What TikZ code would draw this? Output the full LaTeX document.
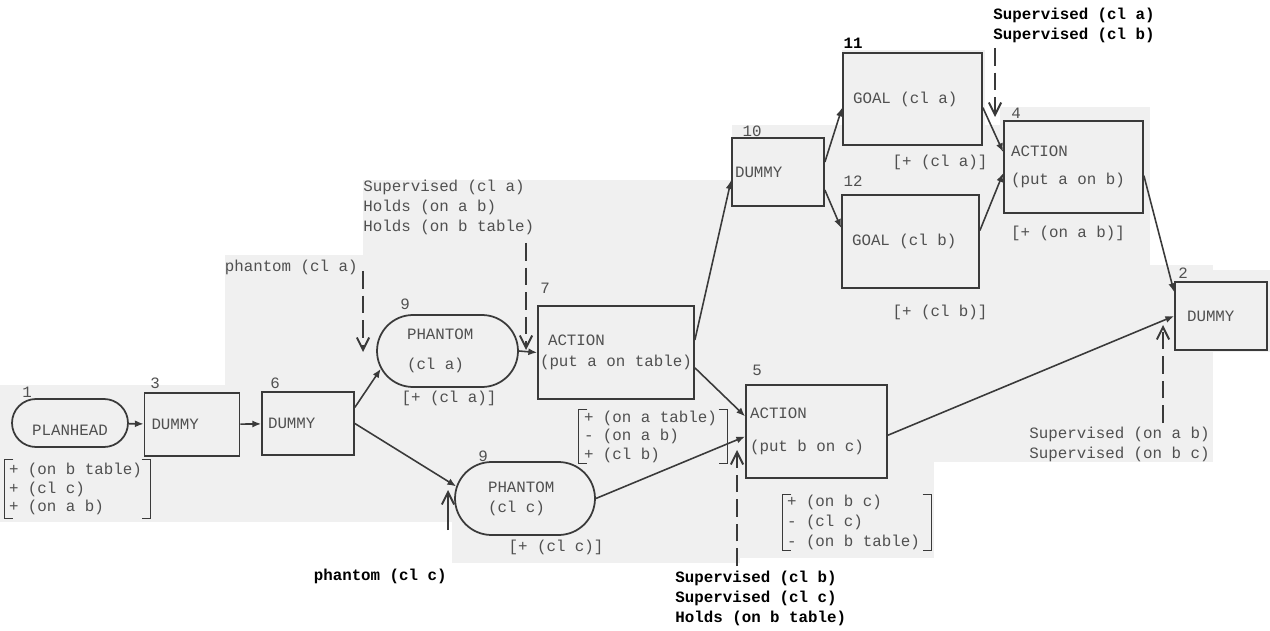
\documentclass[tikz,border=0pt]{standalone}
\usepackage{fontspec}
\setmonofont{Liberation Mono}
\usetikzlibrary{arrows.meta,shapes.misc}
\definecolor{ink}{HTML}{3A3A3A}
\definecolor{faded}{HTML}{505050}
\definecolor{paper}{HTML}{F0F0F0}
\tikzset{
	every node/.style={font=\ttfamily\fontsize{9}{11.4}\selectfont, text=faded, inner sep=0pt},
	box/.style n args={3}{draw=ink, line width=1pt, minimum width=#1cm, minimum height=#2cm, text width=#3cm, align=flush left},
	stadium/.style n args={3}{box={#1}{#2}{#3}, rounded rectangle},
	cond/.style n args={3}{minimum width=#1cm, minimum height=#2cm, text width=#3cm, align=flush left},
	note/.style={align=left},
	boldnote/.style={align=left, text=black, font=\ttfamily\bfseries\fontsize{9}{11.4}\selectfont},
	flow/.style={draw=ink, line width=0.9pt, -{Latex[length=5pt,width=4pt]}},
	feed/.style={draw=ink, line width=1.1pt, dash pattern=on 10pt off 4pt, -{Straight Barb[length=7pt,width=7pt]}},
	brk/.style={draw=ink, line width=0.9pt}
}
\begin{document}
\begin{tikzpicture}[x=0.02cm, y=-0.02cm]
	\useasboundingbox (0,0) rectangle (1270,631);
	\fill[white] (0,0) rectangle (1270,631);
	% pasted-up patches of the scan
	\foreach \xa/\ya/\xb/\yb in {0/385/455/522, 225/255/363/385, 363/180/732/522, 452/522/740/563, 732/125/1000/462, 732/462/934/558, 842/50/985/125, 1000/107/1150/462, 1150/265/1213/462, 1168/270/1270/352}{
		\fill[paper] (\xa,\ya) rectangle (\xb,\yb);
	}
	% plan nodes
	\node[stadium={2.32}{0.96}{1.6}, align=center] (plan) at (70,423) {\raisebox{-0.18cm}[0.2cm][0.04cm]{PLANHEAD}};
	\node[box={1.9}{1.26}{1.62}] (dummy3) at (192,424.5) {DUMMY};
	\node[box={1.84}{1.26}{1.6}] (dummy6) at (308,423.5) {DUMMY};
	\node[stadium={2.82}{1.44}{1.62}] (phantomA) at (447.5,351) {PHANTOM\\[5.5pt](cl a)};
	\node[box={3.12}{1.86}{3.04}] (action7) at (616,352.5) {\hspace*{0.16cm}ACTION\\[0.5pt](put a on table)};
	\node[stadium={2.8}{1.46}{1.48}] (phantomC) at (525,498.5) {PHANTOM\\(cl c)};
	\node[box={2.82}{1.86}{2.66}] (action5) at (816.5,431.5) {ACTION\\[7pt](put b on c)};
	\node[box={1.84}{1.36}{1.72}] (dummy10) at (778,172) {DUMMY};
	\node[box={2.78}{1.84}{2.38}] (goal11) at (912.5,99) {GOAL (cl a)};
	\node[box={2.74}{1.86}{2.34}] (goal12) at (910.5,241.5) {GOAL (cl b)};
	\node[box={2.78}{1.84}{2.5}] (action4) at (1073.5,167) {ACTION\\[4.5pt](put a on b)};
	\node[box={1.84}{1.36}{1.36}] (dummy2) at (1221,316) {DUMMY};
	% node numbers
	\foreach \name/\x/\y/\txt in {n1/27/392/1, n3/155/383/3, n6/275/383/6, n9a/405/304/9, n7/545/288/7, n9c/483/456/9, n5/757/370/5, n10/752/131/10, n12/853/181/12, n4/1016/113/4, n2/1183/273/2}{
		\node (\name) at (\x,\y) {\txt};
	}
	\node[text=black, font=\ttfamily\bfseries\fontsize{9}{11}\selectfont] (n11) at (853,43) {11};
	% effects
	\node (effA) at (449,398) {[+ (cl a)]};
	\node (effC) at (556,547) {[+ (cl c)]};
	\node (eff11) at (940,162) {[+ (cl a)]};
	\node (eff12) at (940,312) {[+ (cl b)]};
	\node (eff4) at (1068,233) {[+ (on a b)]};
	\node[cond={2.9}{1.16}{2.74}, font=\ttfamily\fontsize{9}{10.5}\selectfont] (lstPH) at (77.5,489) {+ (on b table)\\+ (cl c)\\+ (on a b)};
	\node[cond={2.96}{1.06}{2.76}, font=\ttfamily\fontsize{9}{10.5}\selectfont] (lst7) at (653,436.5) {+ (on a table)\\- (on a b)\\+ (cl b)};
	\node[cond={2.96}{1.1}{2.8}] (lst5) at (857,522.5) {+ (on b c)\\- (cl c)\\- (on b table)};
	\foreach \lst in {lstPH, lst7, lst5}{
		\draw[brk] ([xshift=5pt]\lst.north west) -- (\lst.north west) -- (\lst.south west) -- ([xshift=5pt]\lst.south west);
		\draw[brk] ([xshift=-5pt]\lst.north east) -- (\lst.north east) -- (\lst.south east) -- ([xshift=-5pt]\lst.south east);
	}
	% supervision notes
	\node[note, anchor=east] (phtA) at (358,267) {phantom (cl a)};
	\node[note, anchor=west] (holdsA) at (363,207) {Supervised (cl a)\\Holds (on a b)\\Holds (on b table)};
	\node[boldnote, anchor=east] (phtC) at (447,576) {phantom (cl c)};
	\node[boldnote, anchor=west] (sup5) at (675,598) {Supervised (cl b)\\Supervised (cl c)\\Holds (on b table)};
	\node[boldnote, anchor=west] (sup4) at (993,25) {Supervised (cl a)\\Supervised (cl b)};
	\node[note, anchor=west] (sup2) at (1029,444) {Supervised (on a b)\\Supervised (on b c)};
	% successor links
	\draw[flow] (plan) -- (dummy3);
	\draw[flow] (dummy3) -- (dummy6);
	\draw[flow] (dummy6.19) -- (phantomA.195);
	\draw[flow] (dummy6.east) -- (phantomC.170);
	\draw[flow] (phantomA.east) -- (action7.west);
	\draw[flow] (action7.-11) -- (action5.168);
	\draw[flow] (action7.9) -- (dummy10.190);
	\draw[flow] (phantomC.east) -- (action5.184);
	\draw[flow] (dummy10.12) -- (goal11.187);
	\draw[flow] (dummy10.-21) -- (goal12.169);
	\draw[flow] (goal11.-7) -- (action4.168);
	\draw[flow] (goal12.9) -- (action4.185);
	\draw[flow] (action4.-7) -- (dummy2.153);
	\draw[flow] (action5.-3) -- (dummy2.west);
	% supervision arrows
	\coordinate (fA0) at (363,271); \coordinate (fA1) at (363,352);
	\coordinate (f70) at (526,243); \coordinate (f71) at (526,350);
	\coordinate (f50) at (737,566); \coordinate (f51) at (737,450);
	\coordinate (f40) at (995,48);  \coordinate (f41) at (995,117);
	\coordinate (f20) at (1163,423); \coordinate (f21) at (1163,325);
	\coordinate (fC0) at (448,530); \coordinate (fC1) at (448,490);
	\foreach \s/\t in {fA0/fA1, f70/f71, f50/f51, f40/f41, f20/f21}{
		\draw[feed] (\s) -- (\t);
	}
	\draw[feed, solid] (fC0) -- (fC1);
\end{tikzpicture}
\end{document}
